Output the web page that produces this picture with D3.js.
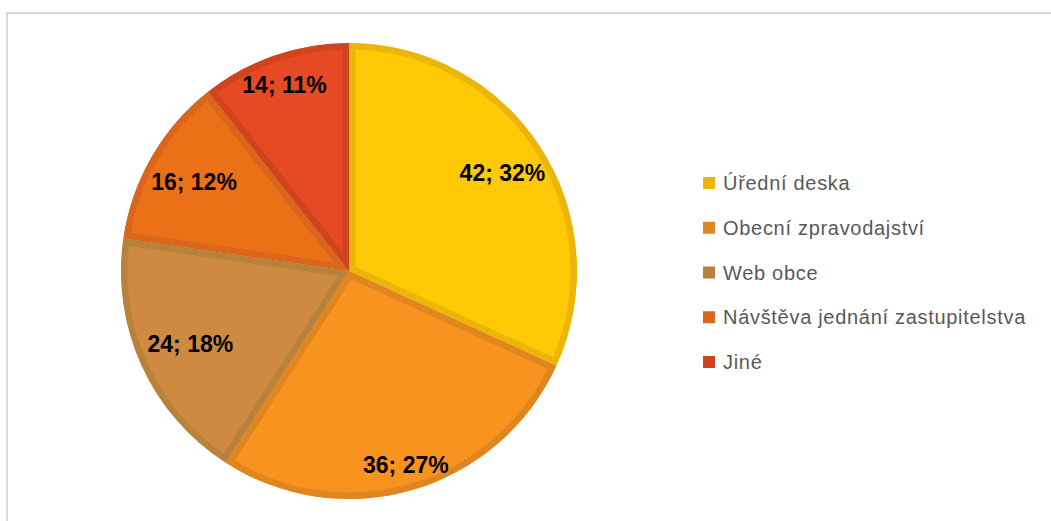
<!DOCTYPE html>
<html>
<head>
<meta charset="utf-8">
<script src="https://cdn.jsdelivr.net/npm/d3@7"></script>
<style>
  html,body{margin:0;padding:0;background:#fff;}
  svg{display:block;}
  .lbl{font-family:"Liberation Sans",Arial,sans-serif;font-weight:bold;font-size:23px;fill:#000;}
  .leg{font-family:"Liberation Sans",Arial,sans-serif;font-size:20px;letter-spacing:0.7px;fill:#595959;}
</style>
</head>
<body>
<div id="chart"></div>
<script>
/* Pie chart - sources of information (counts; share) */
var categories=["Úřední deska","Obecní zpravodajství","Web obce","Návštěva jednání zastupitelstva","Jiné"];
var values=[42,36,24,16,14];
var fillColors=["#FFC906","#F7931E","#CD8A40","#EC7018","#E54A24"];
var edgeColors=["#E9B609","#E1851E","#B9823C","#D9661A","#D1431F"];

function renderPie(){
    var id="#chart"; d3.select(id).html("");
    var W=1051,H=521, cx=349, cy=271, R=228;
    var svg=d3.select(id).append("svg").attr("width",W).attr("height",H);

    /* chart area frame (runs off right / bottom edge) */
    svg.append("rect").attr("x",7).attr("y",13).attr("width",W+20).attr("height",H+20)
        .attr("fill","none").attr("stroke","#d9d9d9").attr("stroke-width",2);

    var total=d3.sum(values);
    var pie=d3.pie().sort(null).value(function(d){return d;});
    var arcs=pie(values);
    var arc=d3.arc().innerRadius(0).outerRadius(R);
    var g=svg.append("g").attr("transform","translate("+cx+","+cy+")");
    var defs=svg.append("defs");

    arcs.forEach(function(a,i){
        defs.append("clipPath").attr("id","clip"+i).append("path").attr("d",arc(a));
    });

    g.selectAll("path.slice").data(arcs).enter().append("path").attr("class","slice")
        .attr("d",arc)
        .attr("clip-path",function(d,i){return "url(#clip"+i+")";})
        .attr("fill",function(d,i){return fillColors[i];})
        .attr("stroke",function(d,i){return edgeColors[i];})
        .attr("stroke-width",13)
        .attr("stroke-linejoin","miter");

    /* data labels: "value; percent" */
    var labelR=[0.80,0.885,0.765,0.785,0.865];
    g.selectAll("text.lbl").data(arcs).enter().append("text").attr("class","lbl")
        .attr("transform",function(d,i){
            var r=R*labelR[i];
            var la=d3.arc().innerRadius(r).outerRadius(r);
            return "translate("+la.centroid(d)+")";})
        .attr("text-anchor","middle").attr("dy","0.36em")
        .text(function(d){return d.data+"; "+Math.round(d.data/total*100)+"%";});

    /* legend */
    var ly=d3.scalePoint().domain(categories).range([183,362]);
    var leg=svg.append("g").selectAll("g").data(categories).enter().append("g")
        .attr("transform",function(d){return "translate(703,"+ly(d)+")";});
    leg.append("rect").attr("x",0).attr("y",-6).attr("width",12).attr("height",12)
        .attr("fill",function(d,i){return edgeColors[i];});
    leg.append("text").attr("class","leg").attr("x",20).attr("dy","0.35em").text(function(d){return d;});
}
renderPie();
</script>
</body>
</html>
